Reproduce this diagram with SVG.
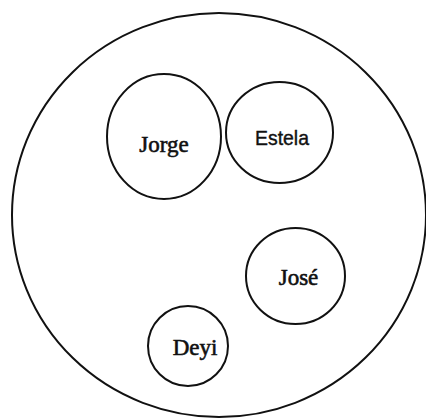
<svg xmlns="http://www.w3.org/2000/svg" width="426" height="419" viewBox="0 0 426 419">
<style>
.c{fill:none;stroke:#111;stroke-width:2}
.t{font-family:"Liberation Serif","Times New Roman",serif;font-size:23px;fill:#111;stroke:#111;stroke-width:0.6;text-anchor:middle}
.s{font-family:"Liberation Sans",Arial,sans-serif;font-size:21px;fill:#111;stroke:#111;stroke-width:0.4;text-anchor:middle}
</style>
<rect width="426" height="419" fill="#fff"/>
<g id="group"><ellipse class="c" cx="219" cy="215" rx="207" ry="202"/></g>
<g id="jorge"><ellipse class="c" cx="164" cy="136.5" rx="57" ry="62.5"/><text class="t" x="164" y="152">Jorge</text></g>
<g id="estela"><ellipse class="c" cx="279.5" cy="132.5" rx="53.5" ry="50.5"/><text class="s" x="282" y="145" textLength="54" lengthAdjust="spacingAndGlyphs">Estela</text></g>
<g id="jose"><ellipse class="c" cx="295.5" cy="276" rx="49.5" ry="48"/><text class="t" x="298.5" y="285">José</text></g>
<g id="deyi"><ellipse class="c" cx="188" cy="346" rx="40" ry="40"/><text class="t" x="195" y="355">Deyi</text></g>
<g id="connectors"/>
</svg>
